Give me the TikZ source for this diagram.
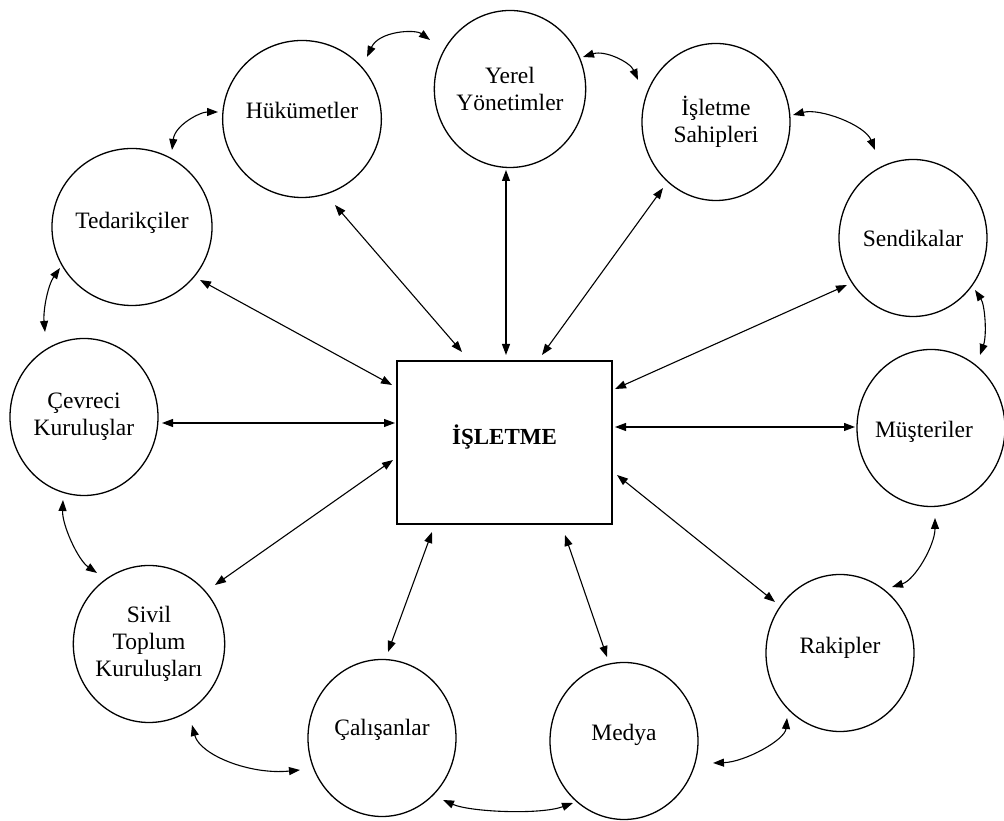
\documentclass[tikz,border=0pt]{standalone}
\usepackage{fontspec}
\setmainfont{Liberation Serif}
\usetikzlibrary{arrows.meta,calc,shapes.geometric}
% raise a label inside its shape without changing the shape's size
\newcommand\liftlabel[2]{\raisebox{#1}[\height][\depth]{#2}}

\begin{document}
\begin{tikzpicture}[x=1pt,y=1pt,
  actor/.style={draw,ellipse,line width=1.3pt,minimum width=148pt,minimum height=157pt,
    inner sep=0pt,outer sep=0pt,align=center,font=\fontsize{23.5}{27}\selectfont},
  core/.style={draw,rectangle,line width=1.3pt,minimum width=215pt,minimum height=163pt,
    inner sep=0pt,outer sep=0pt,font=\fontsize{23}{27}\selectfont\bfseries},
  link/.style={line width=1.1pt,{Triangle[length=11pt,width=8pt]}-{Triangle[length=11pt,width=8pt]}}
]
\fill[white] (0,0) rectangle (1004,821);
\useasboundingbox (0,0) rectangle (1004,821);

% central firm
\node[core] (box) at (504.5,378.5) {\liftlabel{5pt}{İŞLETME}};

% stakeholders
\node[actor] (huk) at (302,702) {\liftlabel{9pt}{Hükümetler}};
\node[actor] (yer) at (510,732) {Yerel\\Yönetimler};
\node[actor] (sah) at (716,699) {İşletme\\Sahipleri};
\node[actor] (ted) at (132,594) {\liftlabel{4pt}{Tedarikçiler}};
\node[actor] (sen) at (913,583) {Sendikalar};
\node[actor] (cev) at (84,404) {Çevreci\\Kuruluşlar};
\node[actor] (mus) at (931,393) {\hspace*{-14pt}\liftlabel{-4pt}{Müşteriler}};
\node[actor] (siv) at (149,177) {Sivil\\Toplum\\Kuruluşları};
\node[actor] (rak) at (840,168) {\liftlabel{5pt}{Rakipler}};
\node[actor] (cal) at (382,83) {\liftlabel{8pt}{Çalışanlar}};
\node[actor] (med) at (624,80) {\liftlabel{6pt}{Medya}};

% spokes between the firm and each stakeholder
\draw[link] ($(huk)+(33,-86)$) -- ($(box.north west)+(65,9)$);
\draw[link] ($(yer)+(-4,-81)$) -- ($(box.north west)+(109,6)$);
\draw[link] ($(sah)+(-53,-66)$) -- ($(box.north west)+(145,6)$);
\draw[link] ($(sen)+(-66,-47)$) -- ($(box.north east)+(3,-28)$);
\draw[link] ($(mus)+(-76,1)$) -- ($(box.north east)+(3,-66)$);
\draw[link] ($(rak)+(-65,51)$) -- ($(box.north east)+(5,-114)$);
\draw[link] ($(med)+(-17,84)$) -- ($(box.south west)+(168,-11)$);
\draw[link] ($(cal)+(6,86)$) -- ($(box.south west)+(35,-8)$);
\draw[link] ($(siv)+(66,59)$) -- ($(box.south west)+(-4,64)$);
\draw[link] ($(cev)+(78,-6)$) -- ($(box.south west)+(-2,101)$);
\draw[link] ($(ted)+(68,-53)$) -- ($(box.north west)+(-5,-24)$);

% ring of links between neighbouring stakeholders
\draw[link] ($(huk)+(65,62)$) .. controls +(12,26) and +(-15,11) .. ($(yer)+(-80,49)$);
\draw[link] ($(yer)+(73,32)$) .. controls +(22,7) and +(-8,18) .. ($(sah)+(-78,42)$);
\draw[link] ($(sah)+(77,7)$) .. controls +(27,7) and +(-10,25) .. ($(sen)+(-38,88)$);
\draw[link] ($(mus)+(49,73)$) .. controls +(7,20) and +(10,-15) .. ($(sen)+(62,-52)$);
\draw[link] ($(rak)+(52,66)$) .. controls +(23,7) and +(0,-27) .. ($(mus)+(4,-90)$);
\draw[link] ($(med)+(89,-22)$) .. controls +(32,1) and +(-2,-22) .. ($(rak)+(-53,-65)$);
\draw[link] ($(cal)+(61,-62)$) .. controls +(27,-12) and +(-33,-12) .. ($(med)+(-51,-62)$);
\draw[link] ($(siv)+(43,-81)$) .. controls +(8,-30) and +(-50,-5) .. ($(cal)+(-82,-32)$);
\draw[link] ($(cev)+(-21,-83)$) .. controls +(-1,-25) and +(-19,13) .. ($(siv)+(-52,71)$);
\draw[link] ($(ted)+(-72,-41)$) .. controls +(-12,-17) and +(-2,22) .. ($(cev)+(-39,85)$);
\draw[link] ($(huk)+(-84,7)$) .. controls +(-18,0) and +(3,25) .. ($(ted)+(40,77)$);
\end{tikzpicture}
\end{document}
